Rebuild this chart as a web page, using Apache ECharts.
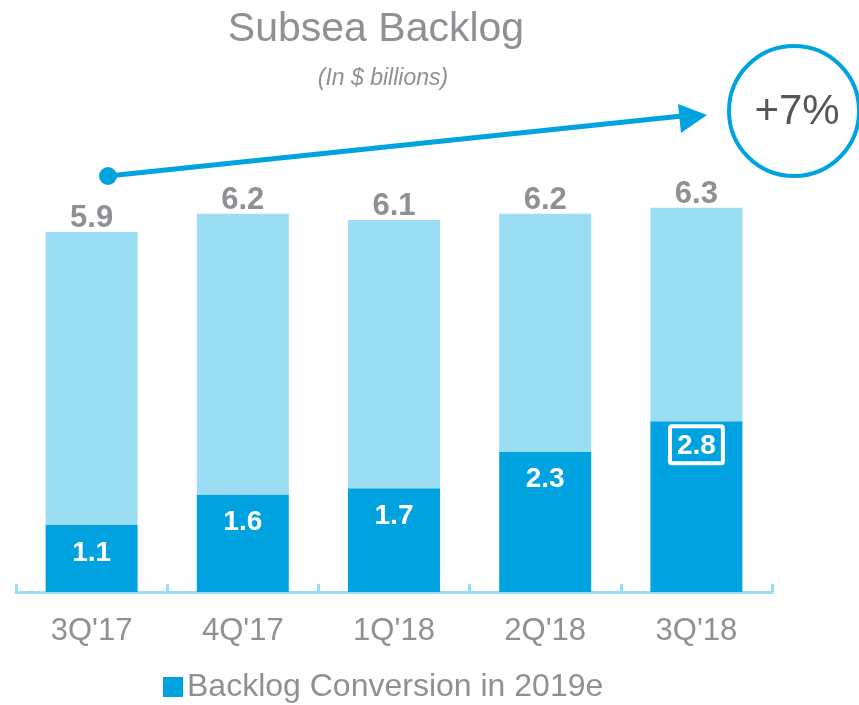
<!DOCTYPE html>
<html>
<head>
<meta charset="utf-8">
<script src="https://cdn.jsdelivr.net/npm/echarts@6/dist/echarts.min.js"></script>
<style>
  html, body { margin: 0; padding: 0; background: #fff; }
  #main { width: 859px; height: 705px; }
</style>
</head>
<body>
<div id="main"></div>
<script>
// data
var quarters = ["3Q'17", "4Q'17", "1Q'18", "2Q'18", "3Q'18"];
var totals = [5.9, 6.2, 6.1, 6.2, 6.3];
var conversion = [1.1, 1.6, 1.7, 2.3, 2.8];
var growthLabel = '+7%';

var dark = '#00a3df';
var light = '#9bddf3';
var grey = '#8e9094';
var font = 'Liberation Sans';

// remainder stacked above the 2019e conversion part
var rest = totals.map(function (t, i) { return +(t - conversion[i]).toFixed(1); });

var chart = echarts.init(document.getElementById('main'));

chart.setOption({
  animation: false,
  textStyle: { fontFamily: font },
  title: [{
    text: 'Subsea Backlog',
    left: 371, top: 4, textAlign: 'center',
    textStyle: { fontSize: 41, fontWeight: 'normal', color: grey, fontFamily: font }
  }, {
    text: '(In $ billions)',
    left: 378, top: 62, textAlign: 'center',
    textStyle: { fontSize: 23, fontWeight: 'normal', fontStyle: 'italic', color: grey, fontFamily: font }
  }],
  legend: {
    data: ['Backlog Conversion in 2019e'],
    left: 163, top: 671, padding: 0,
    icon: 'rect', itemWidth: 20, itemHeight: 20, itemGap: 5,
    textStyle: { fontSize: 32, color: grey, fontFamily: font, padding: [0, 0, 0, -1] }
  },
  grid: { left: 16, right: 87, top: 165, bottom: 113 },
  xAxis: {
    type: 'category',
    data: quarters,
    axisLine: { lineStyle: { color: light, width: 3 } },
    axisTick: { show: true, inside: true, length: 8, lineStyle: { color: light, width: 3 } },
    axisLabel: { fontSize: 31, color: grey, margin: 24, fontFamily: font }
  },
  yAxis: {
    type: 'value', min: 0, max: 7,
    show: false, splitLine: { show: false }
  },
  series: [{
    name: 'Backlog Conversion in 2019e',
    type: 'bar', stack: 'b', barWidth: 92,
    data: conversion.map(function (v, i) {
      var item = { value: v };
      if (i === conversion.length - 1) {
        item.label = {
          borderColor: '#fff', borderWidth: 4, borderRadius: 2,
          padding: [6, 7, 3, 7], distance: 5
        };
      }
      return item;
    }),
    itemStyle: { color: dark },
    label: {
      show: true, position: 'insideTop', distance: 14,
      fontSize: 28, fontWeight: 'bold', color: '#fff', fontFamily: font
    }
  }, {
    name: 'Rest',
    type: 'bar', stack: 'b', barWidth: 92,
    data: rest,
    itemStyle: { color: light },
    label: {
      show: true, position: 'top', distance: -2,
      fontSize: 31, fontWeight: 'bold', color: grey, fontFamily: font,
      formatter: function (p) { return totals[p.dataIndex].toFixed(1); }
    }
  }],
  graphic: [{
    type: 'line',
    shape: { x1: 108, y1: 176, x2: 682, y2: 116 },
    style: { stroke: dark, lineWidth: 5 }
  }, {
    type: 'circle',
    shape: { cx: 108, cy: 176, r: 9 },
    style: { fill: dark }
  }, {
    type: 'polygon',
    shape: { points: [[707, 115], [678, 104], [681, 133]] },
    style: { fill: dark }
  }, {
    type: 'circle',
    shape: { cx: 794, cy: 111, r: 65 },
    style: { fill: '#fff', stroke: dark, lineWidth: 4 }
  }, {
    type: 'text',
    x: 797, y: 112,
    style: {
      text: growthLabel, fontSize: 42, fill: '#555659', fontFamily: font,
      align: 'center', verticalAlign: 'middle'
    }
  }]
});
</script>
</body>
</html>
